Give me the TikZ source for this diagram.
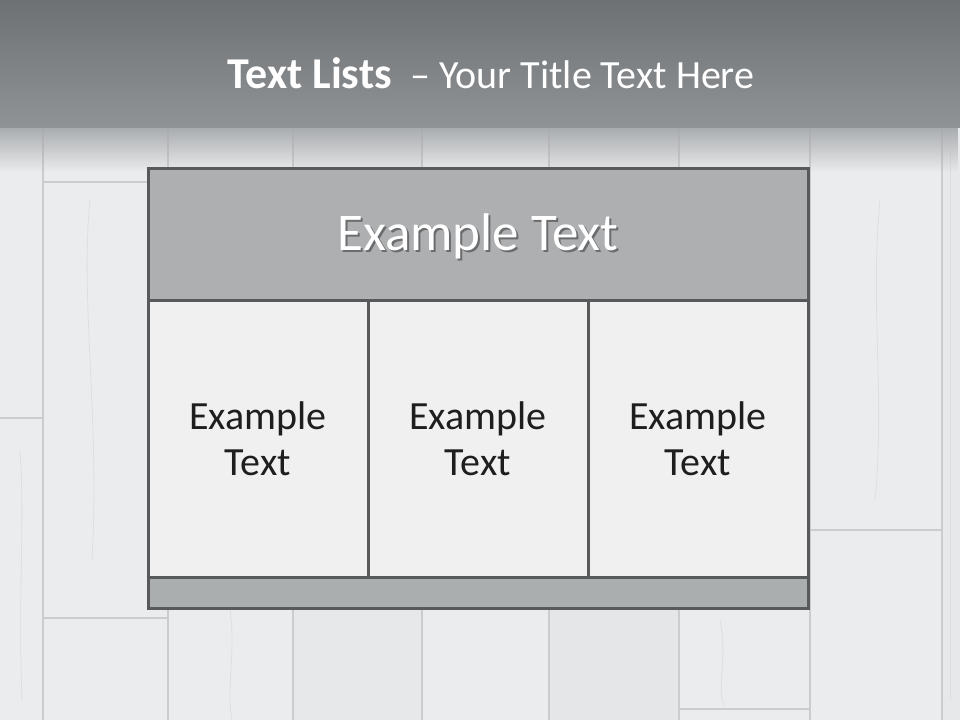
\documentclass[tikz,border=0pt]{standalone}
\usepackage{fontspec}
\setmainfont{Carlito}
\usetikzlibrary{fadings}
\definecolor{bannertop}{HTML}{6E7174}
\definecolor{bannerbot}{HTML}{909396}
\definecolor{wood}{HTML}{EBECED}
\definecolor{woodb}{HTML}{E5E6E7}
\definecolor{seam}{HTML}{CBCCCE}
\definecolor{grain}{HTML}{D8D9DB}
\definecolor{fadegray}{HTML}{A7AAAD}
\definecolor{headfill}{HTML}{ADAFB0}
\definecolor{cellfill}{HTML}{F0F0F0}
\definecolor{footfill}{HTML}{ABAEAF}
\definecolor{frame}{HTML}{57595B}
\definecolor{celltext}{HTML}{1E1E1E}
\definecolor{shadowc}{HTML}{6A6C6E}
\tikzfading[name=fadedown, top color=transparent!0, bottom color=transparent!100]
\tikzset{
  seamline/.style={draw=seam, line width=1.6pt},
  grainline/.style={draw=grain, line width=0.8pt, opacity=0.7},
  boxpart/.style={draw=frame, line width=3pt, inner sep=0pt, outer sep=0pt, anchor=north west},
  cellbox/.style={boxpart, fill=cellfill, minimum width=220pt, minimum height=277pt,
    text=celltext, align=center, font=\fontsize{40}{46}\selectfont},
}
\begin{document}
\begin{tikzpicture}[x=1pt,y=-1pt]
\useasboundingbox (0,0) rectangle (960,720);
% wood background
\fill[wood] (0,0) rectangle (960,720);
\fill[woodb] (549,130) rectangle (679,720);
\fill[woodb!70!wood] (293,130) rectangle (422,720);
\fill[woodb!60!wood] (942,130) rectangle (960,720);
% a few grain streaks
\draw[grainline] (90,200) .. controls (80,300) and (100,420) .. (92,560);
\draw[grainline] (20,450) .. controls (25,520) and (18,600) .. (22,700);
\draw[grainline] (230,610) .. controls (236,650) and (226,690) .. (232,720);
\draw[grainline] (880,200) .. controls (870,300) and (885,400) .. (875,500);
\draw[grainline] (720,620) .. controls (728,660) and (716,690) .. (724,705);
\draw[grainline] (950,150) -- (950,700);
% vertical seams
\foreach \sx in {43,168,293,422,549,679,810,942}
  \draw[seamline] (\sx,125) -- (\sx,720);
% horizontal seams
\draw[seamline] (43,182) -- (168,182);
\draw[seamline] (0,418) -- (43,418);
\draw[seamline] (43,618) -- (168,618);
\draw[seamline] (679,709) -- (810,709);
\draw[seamline] (810,530) -- (942,530);
% banner
\fill[fadegray, path fading=fadedown] (0,126) rectangle (960,172);
\shade[top color=bannertop, bottom color=bannerbot] (0,0) rectangle (960,127);
\node[anchor=base, text=white, inner sep=0pt] (title) at (491,88)
  {\fontsize{44}{50}\selectfont\bfseries Text Lists\hspace{0.42em}{\mdseries\fontsize{40}{50}\selectfont – Your Title Text Here}};
% box
\node[boxpart, fill=headfill, minimum width=660pt, minimum height=132pt] (head) at (148,168) {};
\node[cellbox] (c1) at (148,300) {Example\\Text};
\node[cellbox] (c2) at (368,300) {Example\\Text};
\node[cellbox] (c3) at (588,300) {Example\\Text};
\node[boxpart, fill=footfill, minimum width=660pt, minimum height=31pt] (foot) at (148,577) {};
% header text with shadow
\node[text=white, font=\fontsize{53}{60}\selectfont] (headtext) at ([yshift=-3pt]head.center)
  {\makebox[0pt][l]{\hspace{2pt}\raisebox{-2pt}{\textcolor{shadowc}{Example Text}}}Example Text};
\end{tikzpicture}
\end{document}
